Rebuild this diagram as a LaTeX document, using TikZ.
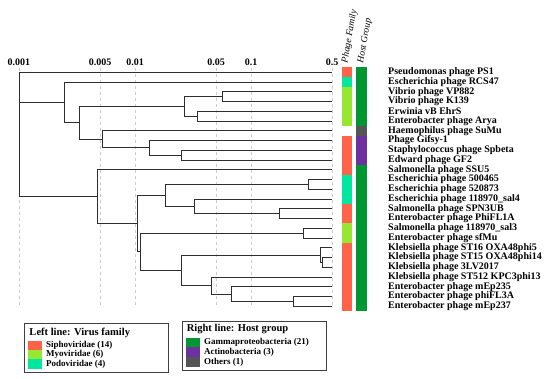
\documentclass[tikz,border=0pt]{standalone}
\usepackage{fontspec}
\setmainfont{Liberation Serif}
\usepackage{xcolor}
\usepackage{tikz}
\usetikzlibrary{calc}
\definecolor{famsifo}{RGB}{255,100,75}
\definecolor{fammio}{RGB}{150,230,50}
\definecolor{fampodo}{RGB}{0,232,160}
\definecolor{hospgamma}{RGB}{0,150,50}
\definecolor{hospactino}{RGB}{110,50,160}
\definecolor{hospotros}{RGB}{85,85,85}
\tikzset{
  rama/.style={draw=black!82,line width=1pt},
  guia/.style={draw=black!20,line width=0.7pt,dash pattern=on 3pt off 3pt},
  hoja/.style={anchor=west,inner sep=0pt,font=\fontsize{10}{10}\selectfont\bfseries},
  eje/.style={inner sep=0pt,font=\fontsize{10}{10}\selectfont\bfseries},
  cabecera/.style={anchor=west,rotate=80,inner sep=0pt,font=\fontsize{9.5}{9.5}\selectfont\itshape},
  leyenda/.style={draw=black!75,line width=0.8pt},
  titleyenda/.style={anchor=west,inner sep=0pt,font=\fontsize{10.5}{10.5}\selectfont\bfseries},
  itemleyenda/.style={anchor=west,inner sep=0pt,font=\fontsize{9}{9}\selectfont\bfseries}
}

\begin{document}
\begin{tikzpicture}[x=1pt, y=-1pt]
    \useasboundingbox (0,0) rectangle (550,379);
    \foreach \v/\x in {0.001/19, 0.005/100, 0.01/135, 0.05/216, 0.1/251, 0.5/332}{
        \draw[guia] (\x,68) -- (\x,308);
        \node[eje] (ej\x) at (\x,62) {\v};
    }
    \foreach \nombre [count=\i from 0] in {Pseudomonas phage PS1, Escherichia phage RCS47,
        Vibrio phage VP882, Vibrio phage K139, Erwinia vB EhrS, Enterobacter phage Arya,
        Haemophilus phage SuMu, Phage Gifsy-1, Staphylococcus phage Spbeta, Edward phage GF2,
        Salmonella phage SSU5, Escherichia phage 500465, Escherichia phage 520873,
        Escherichia phage 118970\_sal4, Salmonella phage SPN3UB, Enterobacter phage PhiFL1A,
        Salmonella phage 118970\_sal3, Enterobacter phage sfMu, Klebsiella phage ST16 OXA48phi5,
        Klebsiella phage ST15 OXA48phi14, Klebsiella phage 3LV2017, Klebsiella phage ST512 KPC3phi13,
        Enterobacter phage mEp235, Enterobacter phage phiFL3A, Enterobacter phage mEp237}{
        \coordinate (l\i) at (332,72.3+9.75*\i);
        \node[hoja] (t\i) at (388,72.3+9.75*\i) {\nombre};
    }
    \coordinate (raiz) at (19,134);
    \coordinate (nA) at (64,102.5);
    \coordinate (nC) at (79.7,122.9);
    \coordinate (nD) at (184.3,106.4);
    \coordinate (nF) at (222.7,96.7);
    \coordinate (nG) at (197.7,116.2);
    \coordinate (nE) at (102.7,139.3);
    \coordinate (nH) at (149.3,147.9);
    \coordinate (nI) at (181,155.2);
    \coordinate (nB) at (97.7,196.7);
    \coordinate (nJ) at (137.3,223.6);
    \coordinate (nK) at (165.7,195.4);
    \coordinate (nM) at (308.3,184.4);
    \coordinate (nN) at (194.7,206.4);
    \coordinate (nO) at (279.7,213.7);
    \coordinate (nL) at (140.3,251.8);
    \coordinate (nP) at (303.7,233.2);
    \coordinate (nQ) at (181.7,270.4);
    \coordinate (nR) at (320.7,255.1);
    \coordinate (nT) at (322.3,262.4);
    \coordinate (nS) at (211.7,285.6);
    \coordinate (nU) at (231.7,294.1);
    \coordinate (nV) at (293,301.4);
    \draw[rama] (raiz) |- (l0) (raiz) |- (nA) (raiz) |- (nB);
    \draw[rama] (nA) |- (l1) (nA) |- (nC);
    \draw[rama] (nC) |- (nD) (nC) |- (nE);
    \draw[rama] (nD) |- (nF) (nD) |- (nG);
    \draw[rama] (nF) |- (l2) (nF) |- (l3);
    \draw[rama] (nG) |- (l4) (nG) |- (l5);
    \draw[rama] (nE) |- (l6) (nE) |- (nH);
    \draw[rama] (nH) |- (l7) (nH) |- (nI);
    \draw[rama] (nI) |- (l8) (nI) |- (l9);
    \draw[rama] (nB) |- (l10) (nB) |- (nJ);
    \draw[rama] (nJ) |- (nK) (nJ) |- (nL);
    \draw[rama] (nK) |- (nM) (nK) |- (nN);
    \draw[rama] (nM) |- (l11) (nM) |- (l12);
    \draw[rama] (nN) |- (l13) (nN) |- (nO);
    \draw[rama] (nO) |- (l14) (nO) |- (l15);
    \draw[rama] (nL) |- (nP) (nL) |- (nQ);
    \draw[rama] (nP) |- (l16) (nP) |- (l17);
    \draw[rama] (nQ) |- (nR) (nQ) |- (nS);
    \draw[rama] (nR) |- (l18) (nR) |- (nT);
    \draw[rama] (nT) |- (l19) (nT) |- (l20);
    \draw[rama] (nS) |- (l21) (nS) |- (nU);
    \draw[rama] (nU) |- (l22) (nU) |- (nV);
    \draw[rama] (nV) |- (l23) (nV) |- (l24);
    \fill[famsifo] (342,67.4) rectangle (352.3,77.2);
    \fill[fampodo] (342,77.2) rectangle (352.3,86.9);
    \fill[fammio] (342,86.9) rectangle (352.3,125.9);
    \fill[famsifo] (342,135.7) rectangle (352.3,174.7);
    \fill[fampodo] (342,174.7) rectangle (352.3,203.9);
    \fill[famsifo] (342,203.9) rectangle (352.3,223.4);
    \fill[fammio] (342,223.4) rectangle (352.3,242.9);
    \fill[famsifo] (342,242.9) rectangle (352.3,311.2);
    \fill[hospgamma] (356,67.4) rectangle (367.3,125.9);
    \fill[hospotros] (356,125.9) rectangle (367.3,135.7);
    \fill[hospactino] (356,135.7) rectangle (367.3,164.9);
    \fill[hospgamma] (356,164.9) rectangle (367.3,311.2);
    \node[cabecera] (cfam) at (345,63) {Phage Family};
    \node[cabecera] (chosp) at (361,63) {Host Group};
    \draw[leyenda] (24.3,323.7) rectangle (168.3,372.7);
    \node[titleyenda] (tfam) at (29.3,332.7) {Left line: Virus family};
    \fill[famsifo] (28.3,340.7) rectangle (42.3,350);
    \fill[fammio] (28.3,350) rectangle (42.3,359.3);
    \fill[fampodo] (28.3,359.3) rectangle (42.3,369);
    \node[itemleyenda] (isifo) at (46,345.3) {Siphoviridae (14)};
    \node[itemleyenda] (imio) at (46,354.7) {Myoviridae (6)};
    \node[itemleyenda] (ipodo) at (46,364) {Podoviridae (4)};
    \draw[leyenda] (182.3,321.7) rectangle (326.3,370.7);
    \node[titleyenda] (thosp) at (186.7,329.3) {Right line: Host group};
    \fill[hospgamma] (185.7,337.7) rectangle (200,347);
    \fill[hospactino] (185.7,347) rectangle (200,357);
    \fill[hospotros] (185.7,357) rectangle (200,367);
    \node[itemleyenda] (igamma) at (204,342.3) {Gammaproteobacteria (21)};
    \node[itemleyenda] (iactino) at (204,352) {Actinobacteria (3)};
    \node[itemleyenda] (iotros) at (204,362) {Others (1)};
\end{tikzpicture}
\end{document}
